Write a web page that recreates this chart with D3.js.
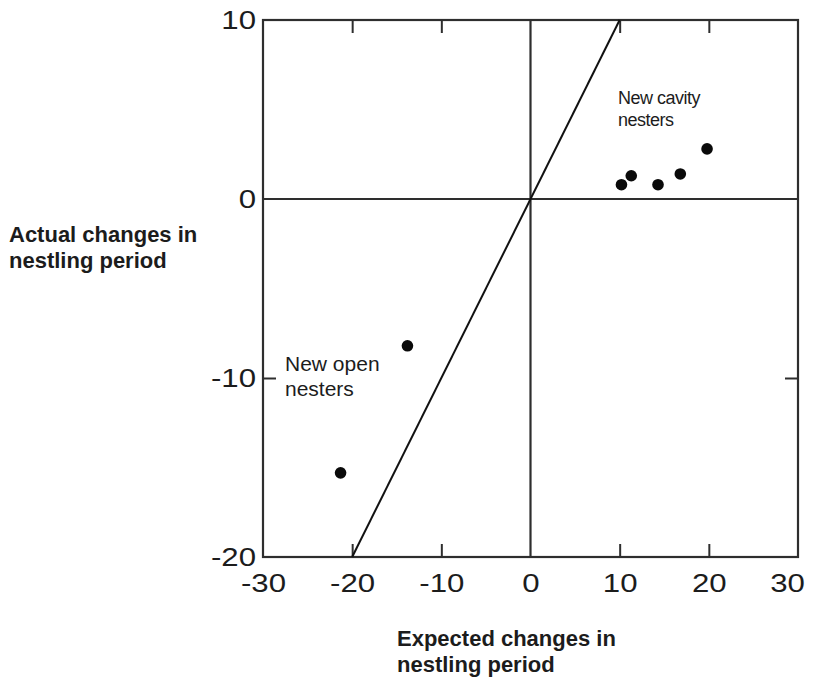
<!DOCTYPE html>
<html>
<head>
<meta charset="utf-8">
<script src="https://cdn.jsdelivr.net/npm/d3@7"></script>
<style>
  html, body { margin: 0; padding: 0; background: #fff; }
  svg { display: block; }
  .xlab text { transform-box: fill-box; transform-origin: center; transform: scaleX(1.2); }
  .ylab text { transform-box: fill-box; transform-origin: right center; transform: scaleX(1.2); }
</style>
</head>
<body>
<svg id="chart" width="813" height="681"></svg>
<script>
// Expected vs. actual changes in nestling period (days)
const cavityExpected = [10.2, 11.3, 14.3, 16.8, 19.8];
const cavityActual   = [0.8, 1.3, 0.8, 1.4, 2.8];
const openExpected   = [-13.8, -21.3];
const openActual     = [-8.2, -15.3];
const xTickValues = [-30, -20, -10, 0, 10, 20, 30];
const yTickValues = [-20, -10, 0, 10];
const equalityLine = [[-20, -20], [10, 10]];

const svg = d3.select("#chart");
const x = d3.scaleLinear().domain([-30, 30]).range([263, 798]);
const y = d3.scaleLinear().domain([-20, 10]).range([557, 20]);

const lineColor = "#2e2e2e";
const textColor = "#1c1c1c";
const tickFont = "Liberation Sans, Arial, sans-serif";
const plainFormat = d => String(d);

// Frame
svg.append("rect")
  .attr("x", x(-30)).attr("y", y(10))
  .attr("width", x(30) - x(-30)).attr("height", y(-20) - y(10))
  .attr("fill", "none").attr("stroke", lineColor).attr("stroke-width", 2.2);

// Inward ticks on all four sides, labels on bottom and left
function styleAxis(g, showLabels) {
  g.select(".domain").remove();
  g.selectAll(".tick line").attr("stroke", lineColor).attr("stroke-width", 2);
  g.selectAll(".tick text")
    .attr("fill", textColor)
    .style("font-family", tickFont)
    .style("font-size", "26px");
  if (!showLabels) g.selectAll(".tick text").remove();
}

const innerX = xTickValues.filter(v => v !== 0 && Math.abs(v) !== 30);
const innerY = yTickValues.filter(v => v !== 0 && v !== 10 && v !== -20);

svg.append("g").attr("class", "xlab").attr("transform", `translate(0,${y(-20)})`)
  .call(d3.axisBottom(x).tickValues(xTickValues).tickSizeInner(0).tickSizeOuter(0).tickPadding(17).tickFormat(plainFormat))
  .call(g => styleAxis(g, true))
  // keep the last label inside the page edge
  .call(g => g.selectAll(".tick text").filter(d => d === 30).attr("dx", -11));
svg.append("g").attr("transform", `translate(0,${y(-20)})`)
  .call(d3.axisBottom(x).tickValues(innerX).tickSize(-13).tickFormat(""))
  .call(g => styleAxis(g, false));
svg.append("g").attr("transform", `translate(0,${y(10)})`)
  .call(d3.axisTop(x).tickValues(innerX).tickSize(-13).tickFormat(""))
  .call(g => styleAxis(g, false));

svg.append("g").attr("class", "ylab").attr("transform", `translate(${x(-30)},0)`)
  .call(d3.axisLeft(y).tickValues(yTickValues).tickSizeInner(0).tickSizeOuter(0).tickPadding(7).tickFormat(plainFormat))
  .call(g => styleAxis(g, true));
svg.append("g").attr("transform", `translate(${x(-30)},0)`)
  .call(d3.axisLeft(y).tickValues(innerY).tickSize(-13).tickFormat(""))
  .call(g => styleAxis(g, false));
svg.append("g").attr("transform", `translate(${x(30)},0)`)
  .call(d3.axisRight(y).tickValues(innerY).tickSize(-13).tickFormat(""))
  .call(g => styleAxis(g, false));

// Zero reference lines
svg.append("line")
  .attr("x1", x(0)).attr("x2", x(0)).attr("y1", y(10)).attr("y2", y(-20))
  .attr("stroke", lineColor).attr("stroke-width", 2.2);
svg.append("line")
  .attr("x1", x(-30)).attr("x2", x(30)).attr("y1", y(0)).attr("y2", y(0))
  .attr("stroke", lineColor).attr("stroke-width", 2.2);

// 1:1 line
svg.append("path")
  .datum(equalityLine)
  .attr("d", d3.line().x(d => x(d[0])).y(d => y(d[1])))
  .attr("fill", "none").attr("stroke", "#111").attr("stroke-width", 2);

// Points
const cavity = cavityExpected.map((e, i) => ({ e, a: cavityActual[i] }));
const open = openExpected.map((e, i) => ({ e, a: openActual[i] }));
svg.append("g").selectAll("circle")
  .data(cavity.concat(open))
  .join("circle")
  .attr("cx", d => x(d.e)).attr("cy", d => y(d.a))
  .attr("r", 5.8).attr("fill", "#0a0a0a");

// Group annotations
const annoFont = "Liberation Sans, Arial, sans-serif";
const cav = svg.append("text").attr("fill", textColor)
  .style("font-family", annoFont).style("font-size", "18px").style("letter-spacing", "-0.5px");
cav.append("tspan").attr("x", 618).attr("y", 104).text("New cavity");
cav.append("tspan").attr("x", 618).attr("y", 126).text("nesters");

const opn = svg.append("text").attr("fill", textColor)
  .style("font-family", annoFont).style("font-size", "21px");
opn.append("tspan").attr("x", 285).attr("y", 371).text("New open");
opn.append("tspan").attr("x", 285).attr("y", 396).text("nesters");

// Axis titles
const titleFont = "Liberation Sans, Arial, sans-serif";
const yt = svg.append("text").attr("fill", textColor)
  .style("font-family", titleFont).style("font-size", "22px").style("font-weight", "bold");
yt.append("tspan").attr("x", 9).attr("y", 242).text("Actual changes in");
yt.append("tspan").attr("x", 9).attr("y", 268).text("nestling period");

const xt = svg.append("text").attr("fill", textColor)
  .style("font-family", titleFont).style("font-size", "22px").style("font-weight", "bold");
xt.append("tspan").attr("x", 397).attr("y", 646).text("Expected changes in");
xt.append("tspan").attr("x", 397).attr("y", 672).text("nestling period");
</script>
</body>
</html>
